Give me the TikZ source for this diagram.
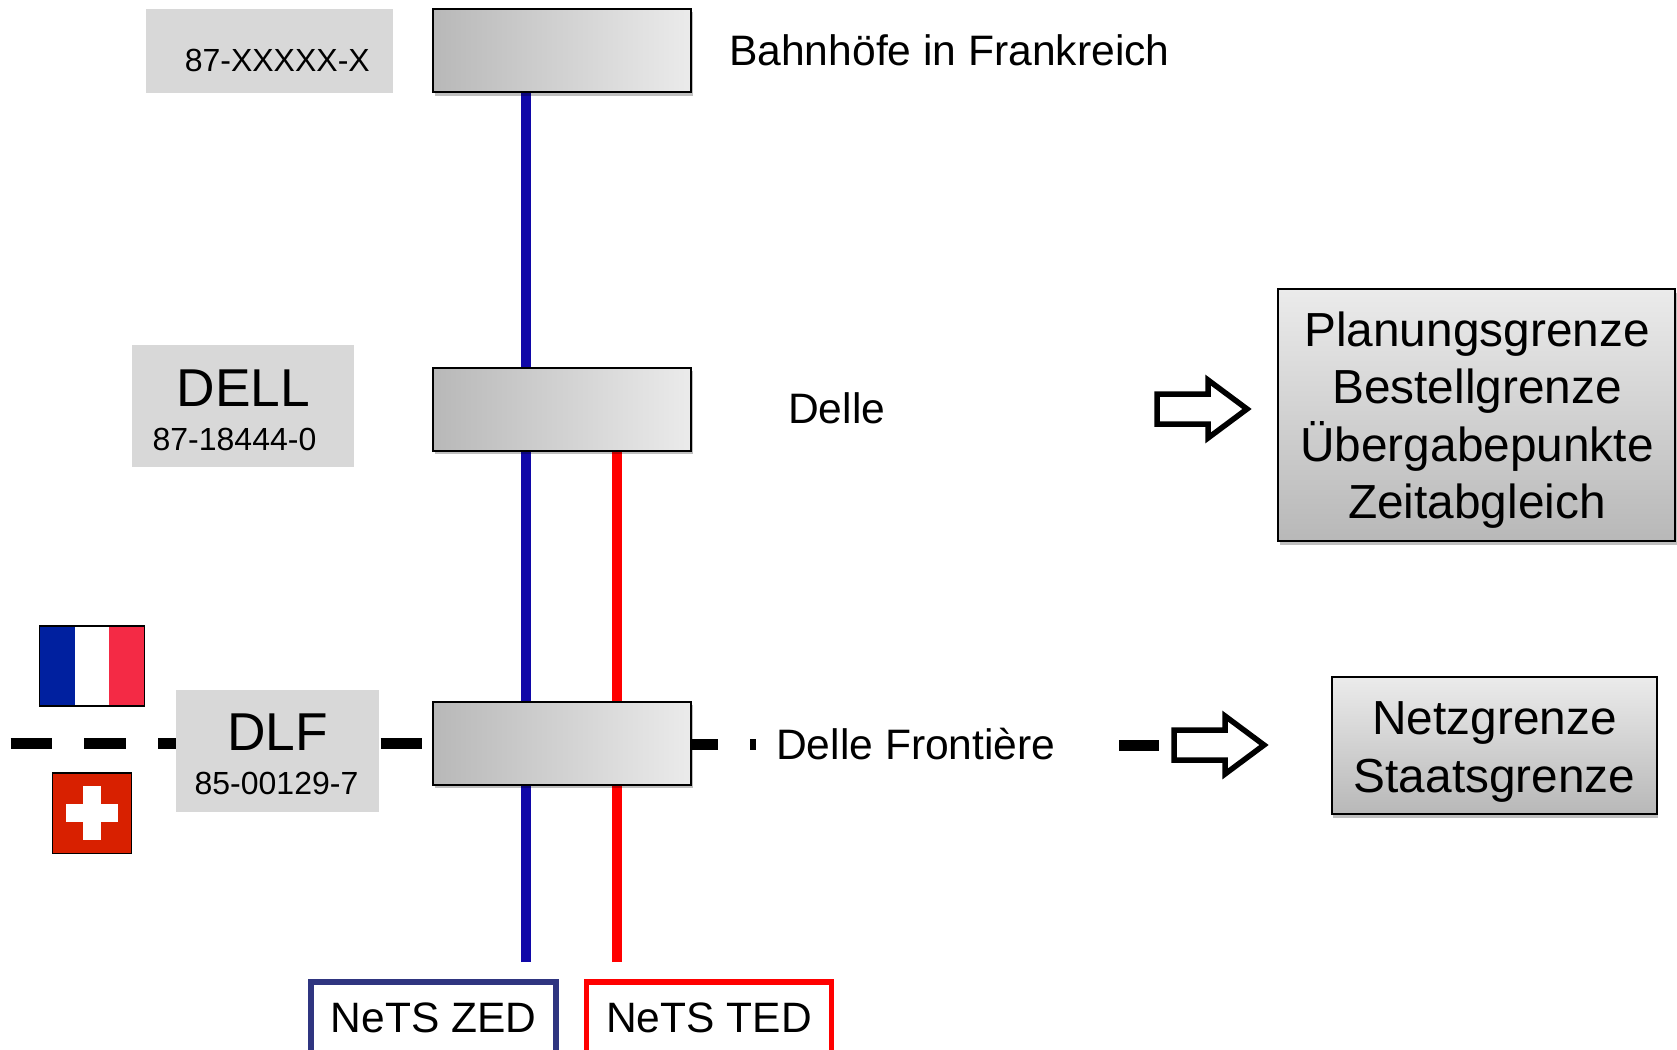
\documentclass[tikz,border=0pt]{standalone}
\usepackage{fontspec}
\setmainfont{Liberation Sans}
\usetikzlibrary{shadows,backgrounds}

\definecolor{platecol}{HTML}{D8D8D8}
\definecolor{shadelight}{HTML}{EBEBEB}
\definecolor{shadedark}{HTML}{B8B8B8}
\definecolor{zedblue}{HTML}{1008A8}
\definecolor{zednavy}{HTML}{2F3580}
\definecolor{tedred}{HTML}{FF0000}
\definecolor{frblue}{HTML}{00209F}
\definecolor{frred}{HTML}{F42A45}
\definecolor{chred}{HTML}{D82000}

\tikzset{
	plate/.style={fill=platecol, inner sep=0, outer sep=0},
	bigname/.style={font=\fontsize{53.3}{60}\selectfont, inner sep=0},
	smallnr/.style={font=\fontsize{32}{38}\selectfont, inner sep=0},
	softshadow/.style={drop shadow={shadow xshift=1.5, shadow yshift=3.5, opacity=0.25, fill=black}},
	station/.style={draw=black, line width=2, minimum width=258, minimum height=83, inner sep=0, outer sep=0,
		left color=shadedark, right color=shadelight, softshadow},
	stationname/.style={font=\fontsize{42.6}{50}\selectfont, anchor=west, inner sep=0},
	sidebox/.style={draw=black, line width=2, inner sep=0, outer sep=0,
		top color=shadelight, bottom color=shadedark, softshadow},
	sidetext/.style={inner sep=0, align=center, font=\fontsize{47.8}{57.5}\selectfont},
	netsbox/.style={draw, line width=5.5, fill=white, minimum width=245, minimum height=76, inner sep=0,
		anchor=north, text depth=4, font=\fontsize{42.5}{50}\selectfont},
	netline/.style={line width=10},
	border/.style={line width=11, black},
}

\begin{document}
\begin{tikzpicture}[x=1pt, y=-1pt]

	\useasboundingbox (0,0) rectangle (1677,1049);

	\coordinate (zedend) at (525.5,962);
	\coordinate (tedend) at (616.5,962);
	\coordinate (borderleft) at (10.7,743);
	\coordinate (borderright) at (756,744);
	\coordinate (arrowbar) at (1119,745);

	\node [station] (bhf) at (562,50.5) {};
	\node [station] (delle) at (562,409) {};
	\node [station] (dlf) at (562,743) {};

	% lines pass behind the stations
	\begin{scope} [on background layer]
	\draw [netline, zedblue] (zedend) -- (zedend |- bhf.south);
	\draw [netline, tedred] (tedend) -- (tedend |- delle.south);
	\end{scope}

	\node [plate, minimum width=247, minimum height=84] (plateX) at (269,51.3) {};
	\node [plate, minimum width=222.5, minimum height=122.5] (plateD) at (243,406) {};
	\node [plate, minimum width=203, minimum height=122.5] (plateL) at (277,751) {};

	\node [smallnr] (nrX) at (277.3,60) {87-XXXXX-X};
	\node [bigname] (nameD) at (243.5,388) {DELL};
	\node [smallnr] (nrD) at (234.5,439) {87-18444-0};
	\node [bigname] (nameL) at (277.5,732) {DLF};
	\node [smallnr] (nrL) at (276.5,783) {85-00129-7};

	\node [stationname] (txtbhf) at (729,50) {Bahnhöfe in Frankreich};
	\node [stationname] (txtdelle) at (788,408) {Delle};
	\node [stationname] (txtdlf) at (776,744) {Delle Frontière};

	\draw [border, dash pattern=on 41.7 off 32] (borderleft) -- (borderleft -| plateL.west);
	\draw [border, shorten >=11] (plateL.east |- borderleft) ++(2,0) -- (dlf.west |- borderleft);
	\draw [border, dash pattern=on 26.6 off 32.4 on 6 off 100] (dlf.east |- borderright) -- (borderright);
	\draw [border] (arrowbar) -- ++(40,0);

	% outline arrows
	\foreach \ax/\ay in {1157/409, 1174/745}
		\draw [line width=5.5, fill=white, miter limit=10] (\ax,\ay-15) -- ++(51,0) -- ++(0,-14) -- ++(39,29) -- ++(-39,29) -- ++(0,-14) -- ++(-51,0) -- cycle;

	\node [sidebox, minimum width=397, minimum height=252] (planbox) at (1476.5,415) {};
	\node [sidetext] (plantxt) at (1477,420) {Planungsgrenze\\Bestellgrenze\\Übergabepunkte\\Zeitabgleich};
	\node [sidebox, minimum width=325, minimum height=137] (netzbox) at (1494,745.5) {};
	\node [sidetext] (netztxt) at (1494.5,752) {Netzgrenze\\Staatsgrenze};

	\node [netsbox, draw=zednavy] (zed) at (433.5,979) {NeTS ZED};
	\node [netsbox, draw=tedred] (ted) at (709,979) {NeTS TED};

	% flags
	\fill [frblue] (39.6,626) rectangle (75,706);
	\fill [white] (75,626) rectangle (109,706);
	\fill [frred] (109,626) rectangle (144.4,706);
	\draw [line width=1.5] (39.6,626) rectangle (144.4,706);

	\fill [chred] (52.4,773) rectangle (131.5,853.5);
	\draw [line width=1.5] (52.4,773) rectangle (131.5,853.5);
	\fill [white] (66,804) rectangle (118,822);
	\fill [white] (83,786) rectangle (101,840);

\end{tikzpicture}
\end{document}
